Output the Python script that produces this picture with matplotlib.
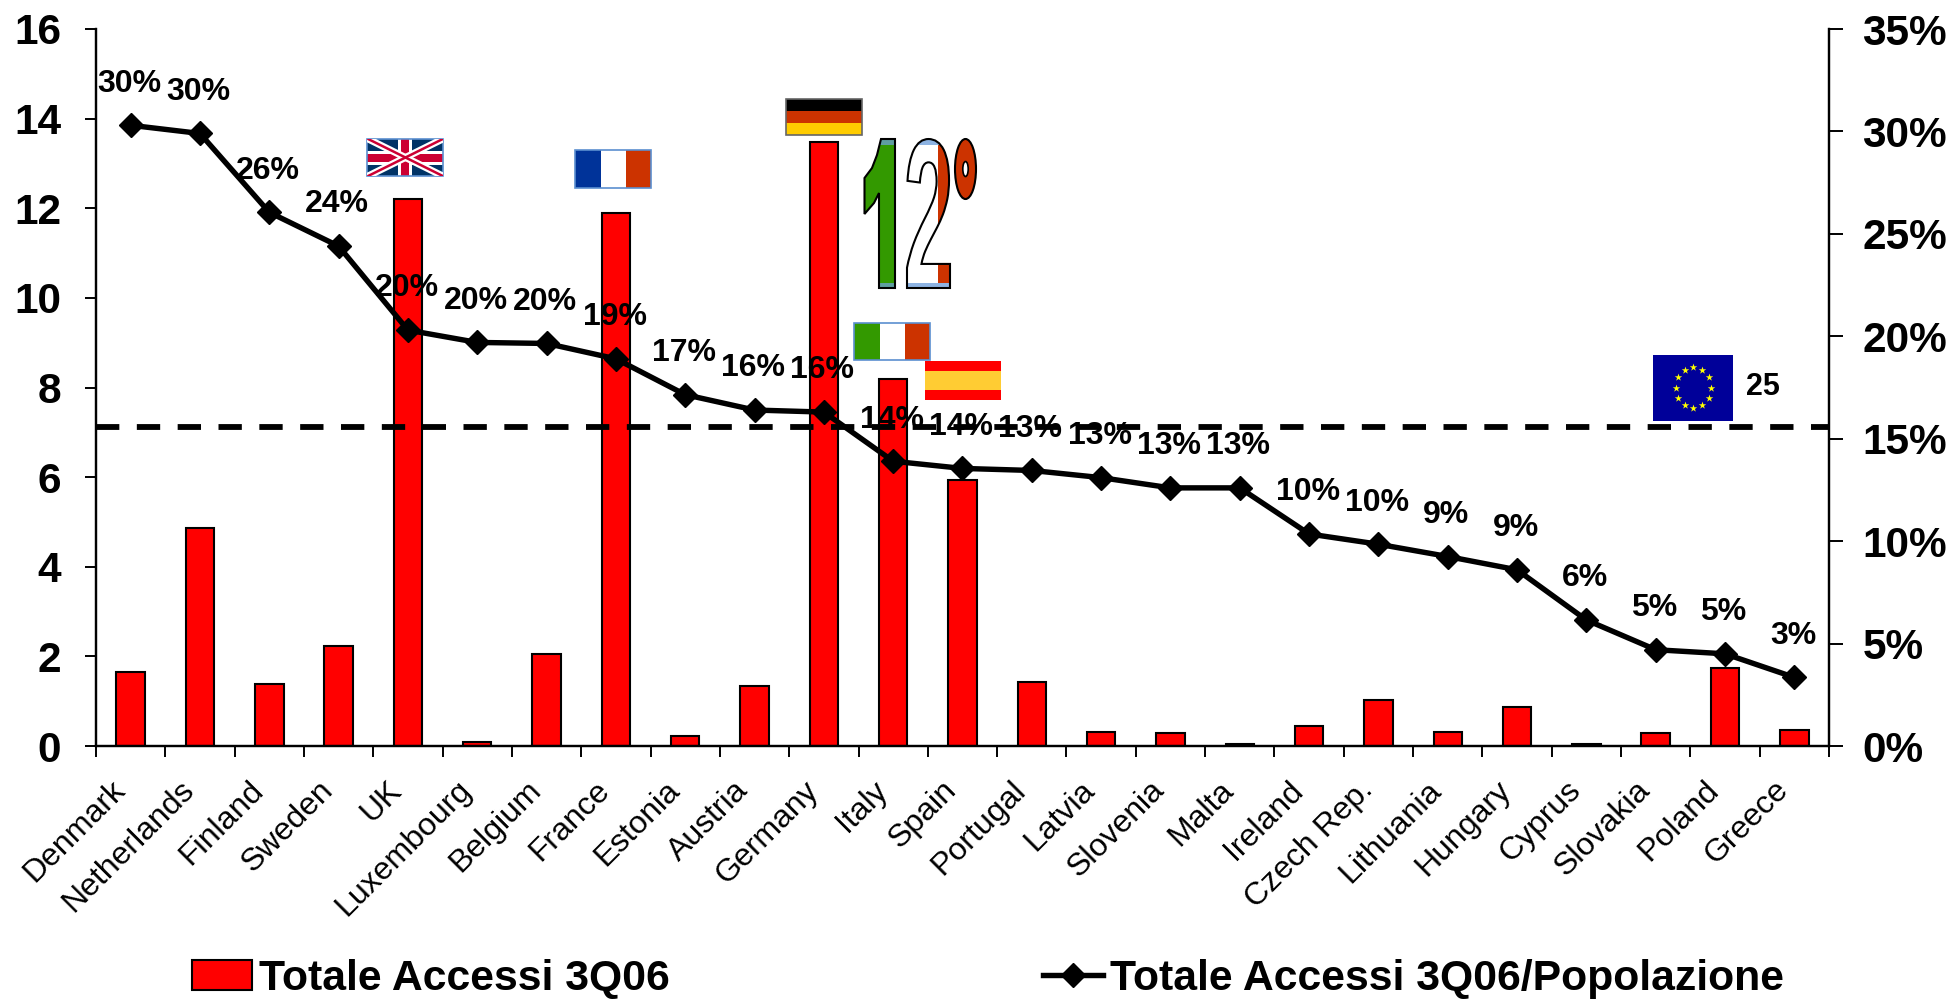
import numpy as np
import matplotlib
matplotlib.use('Agg')
import matplotlib.pyplot as plt
from matplotlib.patches import Rectangle, Ellipse, PathPatch, Polygon
from matplotlib.textpath import TextPath
from matplotlib.font_manager import FontProperties
from matplotlib.transforms import Affine2D, ScaledTranslation

plt.rcParams['font.family'] = ['Liberation Sans', 'DejaVu Sans']

countries = ['Denmark', 'Netherlands', 'Finland', 'Sweden', 'UK', 'Luxembourg', 'Belgium',
             'France', 'Estonia', 'Austria', 'Germany', 'Italy', 'Spain', 'Portugal', 'Latvia',
             'Slovenia', 'Malta', 'Ireland', 'Czech Rep.', 'Lithuania', 'Hungary', 'Cyprus',
             'Slovakia', 'Poland', 'Greece']
accessi = [1.65, 4.87, 1.39, 2.23, 12.2, 0.1, 2.05, 11.9, 0.22, 1.35, 13.47, 8.2, 5.93, 1.43,
           0.32, 0.28, 0.04, 0.45, 1.03, 0.32, 0.86, 0.04, 0.28, 1.74, 0.36]
penetrazione = [30.3, 29.9, 26.05, 24.4, 20.3, 19.7, 19.65, 18.9, 17.15, 16.4, 16.3, 13.9, 13.55,
                13.45, 13.1, 12.6, 12.6, 10.35, 9.85, 9.25, 8.6, 6.15, 4.7, 4.5, 3.35]
etichette = ['30%', '30%', '26%', '24%', '20%', '20%', '20%', '19%', '17%', '16%', '16%', '14%',
             '14%', '13%', '13%', '13%', '13%', '10%', '10%', '9%', '9%', '6%', '5%', '5%', '3%']
media_eu = 7.12

W, H = 1955, 999
fig = plt.figure(figsize=(W / 100, H / 100), dpi=100, facecolor='white')
ax = fig.add_axes([96 / W, 1 - 746 / H, (1829 - 96) / W, (746 - 29) / H])
ax2 = ax.twinx()

x = np.arange(len(countries))
bars = ax.bar(x, accessi, width=0.41, color='#FF0000', edgecolor='black', linewidth=1.5,
              label='Totale Accessi 3Q06')
ax.set_xlim(-0.5, len(countries) - 0.5)
ax.set_ylim(0, 16)
ax2.set_ylim(0, 35)

line, = ax2.plot(x, penetrazione, color='black', lw=3.9, marker='D', ms=12.5,
                 label='Totale Accessi 3Q06/Popolazione')
ax2.plot([-0.5, len(countries) - 0.5], [media_eu * 35 / 16] * 2, color='black', lw=4.2,
         dashes=(4, 3), dash_capstyle='butt', clip_on=False)

for xi, yi, lab in zip(x, penetrazione, etichette):
    ax2.annotate(lab, (xi, yi), xytext=(-1, 30), textcoords='offset points', ha='center',
                 va='center', fontsize=23, fontweight='bold', color='black')

for a in (ax, ax2):
    a.spines['top'].set_visible(False)
    a.spines['left'].set_linewidth(1.6)
    a.spines['right'].set_linewidth(1.6)
    a.spines['bottom'].set_linewidth(1.6)

ax.set_yticks(range(0, 17, 2))
ax.tick_params(axis='y', length=8, width=1.4, pad=17, labelsize=30.5)
for t in ax.get_yticklabels():
    t.set_fontweight('bold')
ax2.set_yticks(range(0, 36, 5))
ax2.set_yticklabels(['%d%%' % v for v in range(0, 36, 5)], fontweight='bold')
ax2.tick_params(axis='y', length=10, width=1.4, pad=14, labelsize=30.5)

# ticks between the categories, names centred on the bars
ax.set_xticks(np.arange(len(countries) + 1) - 0.5)
ax.set_xticklabels([])
ax.tick_params(axis='x', which='major', length=8, width=1.4)
ax.set_xticks(x, minor=True)
ax.set_xticklabels(countries, minor=True, rotation=45, ha='right', va='top',
                   rotation_mode='anchor', fontsize=23)
ax.tick_params(axis='x', which='minor', length=0, pad=21)
shift = ScaledTranslation(-21 / 100, 0, fig.dpi_scale_trans)
for t in ax.get_xticklabels(minor=True):
    t.set_transform(t.get_transform() + shift)

fig.legend(handles=[bars, line], loc='lower left', bbox_to_anchor=(192 / W, 1 - 999 / H),
           ncols=2, frameon=False, prop={'weight': 'bold', 'size': 30.8}, borderpad=0,
           borderaxespad=0, handlelength=1.4, handleheight=0.68, handletextpad=0.17,
           columnspacing=8.72, numpoints=1)

# overlay in pixel coordinates for flags and the 12 degrees artwork
ov = fig.add_axes([0, 0, 1, 1], zorder=5)
ov.set_xlim(0, W)
ov.set_ylim(H, 0)
ov.axis('off')


def rect(x0, y0, x1, y1, color, **kw):
    return ov.add_patch(Rectangle((x0, y0), x1 - x0, y1 - y0, facecolor=color, edgecolor='none', **kw))


def vertical_flag(x0, y0, x1, y1, cols, border='#5B8FD0'):
    w = (x1 - x0) / 3
    for i, c in enumerate(cols):
        rect(x0 + i * w, y0, x0 + (i + 1) * w, y1, c)
    ov.add_patch(Rectangle((x0, y0), x1 - x0, y1 - y0, fill=False, edgecolor=border, lw=1.2))


def uk_flag(x0, y0, x1, y1):
    box = rect(x0, y0, x1, y1, '#003366')
    cx, cy = (x0 + x1) / 2, (y0 + y1) / 2
    for c, lw in (('white', 5), ('#CC0033', 1.8)):
        for ya, yb in ((y0, y1), (y1, y0)):
            l, = ov.plot([x0, x1], [ya, yb], color=c, lw=lw, solid_capstyle='butt')
            l.set_clip_path(box)
    rect(cx - 7, y0, cx + 7, y1, 'white')
    rect(x0, cy - 7, x1, cy + 7, 'white')
    rect(cx - 4, y0, cx + 4, y1, '#CC0033')
    rect(x0, cy - 4, x1, cy + 4, '#CC0033')
    ov.add_patch(Rectangle((x0, y0), x1 - x0, y1 - y0, fill=False, edgecolor='#5B8FD0', lw=1.2))


uk_flag(367.5, 138.7, 443.4, 176.3)
vertical_flag(575.5, 150, 651.4, 188, ['#003399', 'white', '#CC3300'])
vertical_flag(854.5, 323, 930.4, 360, ['#339900', 'white', '#CC3300'])

# Germany
rect(786, 98.7, 862, 111, 'black')
rect(786, 111, 862, 123, '#CC3300')
rect(786, 123, 862, 135, '#FFCC00')
ov.add_patch(Rectangle((786, 98.7), 76, 36.3, fill=False, edgecolor='#666666', lw=1.2))

# Spain
rect(925, 361, 1001, 400, '#FF0000')
rect(925, 371, 1001, 390, '#FFCC33')

# EU
rect(1653, 355, 1733, 420.7, '#000099')
ang = np.linspace(0, 2 * np.pi, 12, endpoint=False)
ov.scatter(1693.5 + 17.5 * np.cos(ang), 387.5 + 20.5 * np.sin(ang), marker='*', s=32,
           color='#FFFF00', linewidths=0)
ov.text(1763, 387, '25', ha='center', va='center', fontsize=22, fontweight='bold')

# the "1" has no foot in the original lettering, so it is outlined by hand
uno = Polygon([(881, 139), (895, 139), (895, 288), (879, 288), (879, 193), (874, 203), (864.5, 214),
               (864.5, 178), (872, 168), (877, 155)], closed=True, facecolor='#339900', edgecolor='none')
ov.add_patch(uno)
for by0, by1 in ((139, 145), (283, 288)):
    rect(864, by0, 896, by1, '#5F9EA0').set_clip_path(uno)
ov.add_patch(Polygon(uno.get_xy(), closed=True, fill=False, edgecolor='black', lw=1.5))

tp = TextPath((0, 0), '2', size=100, prop=FontProperties(family='Liberation Sans', weight='bold'))
bb = tp.get_extents()
due = (Affine2D().translate(-bb.x0, -bb.y1)
       .scale((950 - 907) / bb.width, -(288 - 139) / bb.height).translate(907, 139)).transform_path(tp)
clip = PathPatch(due, facecolor='white', edgecolor='none')
ov.add_patch(clip)
for bx0, by0, bx1, by1, c in [(907, 139, 950, 145, '#8DB3E2'), (938, 145, 950, 283, '#CC3300'),
                              (907, 283, 950, 288, '#8DB3E2')]:
    rect(bx0, by0, bx1, by1, c).set_clip_path(clip)
ov.add_patch(PathPatch(due, fill=False, edgecolor='black', lw=1.5))

ov.add_patch(Ellipse((965.5, 169), 21, 60, facecolor='#CC3300', edgecolor='black', lw=1.5))
ov.add_patch(Ellipse((965.5, 169), 5.4, 15, facecolor='white', edgecolor='black', lw=1.2))

fig.savefig('out.png', dpi=100)
